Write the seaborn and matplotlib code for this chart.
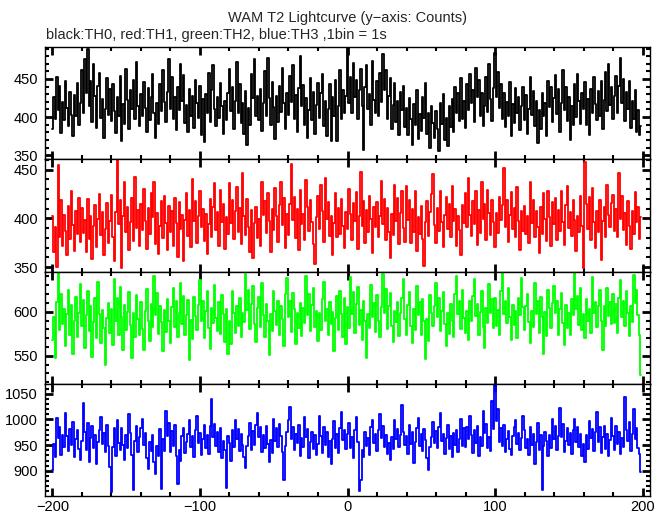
import numpy as np
import seaborn as sns
import matplotlib.pyplot as plt
from matplotlib.ticker import MultipleLocator

# time axis, 1 bin = 1 s
time = np.arange(-200, 200)

# TH0 (black)
th0 = [
    384, 427, 398, 452, 409, 441, 379, 420, 396, 447, 412, 388, 433, 403, 375, 429, 401, 445, 390, 418,
    462, 405, 476, 431, 489, 414, 447, 393, 470, 428, 386, 441, 458, 399, 424, 372, 410, 451, 403, 437,
    395, 443, 408, 379, 426, 402, 454, 369, 417, 391, 463, 422, 384, 436, 410, 449, 398, 472, 415, 388,
    430, 401, 446, 412, 381, 438, 396, 427, 457, 405, 372, 419, 391, 444, 408, 462, 420, 394, 433, 476,
    411, 452, 397, 426, 383, 440, 409, 470, 421, 455, 392, 416, 381, 437, 402, 428, 386, 449, 418, 399,
    441, 376, 424, 367, 430, 405, 458, 394, 436, 468, 410, 388, 427, 399, 445, 414, 378, 421, 396, 432,
    463, 408, 439, 385, 421, 472, 406, 443, 392, 418, 378, 434, 364, 412, 389, 457, 425, 476, 401, 428,
    396, 437, 382, 419, 460, 402, 478, 425, 390, 446, 413, 371, 428, 394, 441, 407, 465, 418, 385, 431,
    403, 454, 420, 468, 397, 429, 381, 438, 480, 414, 442, 390, 425, 372, 409, 451, 396, 433, 378, 416,
    445, 399, 432, 457, 388, 421, 375, 410, 443, 368, 426, 401, 449, 368, 414, 462, 397, 436, 405, 428,
    491, 418, 452, 406, 471, 427, 449, 398, 436, 463, 415, 357, 440, 468, 411, 430, 389, 474, 422, 405,
    447, 401, 458, 420, 483, 435, 462, 397, 428, 451, 384, 416, 445, 393, 421, 376, 433, 409, 441, 387,
    412, 376, 425, 398, 363, 417, 389, 436, 371, 404, 382, 427, 399, 445, 378, 406, 360, 414, 392, 372,
    408, 384, 356, 419, 391, 430, 370, 399, 362, 415, 387, 424, 381, 440, 406, 432, 395, 451, 398, 421,
    386, 443, 409, 457, 418, 436, 394, 465, 427, 449, 401, 431, 388, 414, 452, 407, 470, 424, 395, 438,
    484, 426, 459, 412, 443, 398, 431, 387, 420, 401, 446, 375, 417, 392, 438, 405, 427, 383, 414, 440,
    396, 429, 378, 411, 452, 403, 434, 388, 421, 366, 409, 385, 432, 402, 418, 375, 447, 413, 440, 394,
    425, 455, 404, 437, 381, 418, 462, 409, 439, 395, 426, 370, 414, 389, 443, 400, 457, 421, 391, 432,
    411, 446, 389, 424, 376, 437, 405, 452, 417, 396, 434, 401, 447, 384, 423, 459, 408, 470, 416, 439,
    398, 428, 454, 406, 441, 477, 419, 450, 395, 433, 410, 448, 386, 421, 397, 435, 381, 409, 376, 388,
]

# TH1 (red)
th1 = [
    402, 366, 391, 350, 455, 381, 419, 372, 404, 387, 362, 413, 379, 428, 393, 367, 408, 384, 421, 376,
    411, 385, 398, 366, 420, 379, 403, 358, 392, 414, 371, 399, 425, 383, 407, 362, 389, 416, 375, 397,
    424, 381, 356, 407, 460, 394, 419, 349, 402, 437, 386, 412, 368, 396, 421, 377, 443, 390, 409, 372,
    415, 388, 430, 397, 369, 411, 384, 426, 401, 437, 374, 406, 363, 392, 418, 380, 423, 395, 368, 413,
    386, 408, 372, 421, 395, 360, 417, 389, 404, 356, 398, 426, 382, 409, 371, 440, 397, 418, 375, 402,
    428, 391, 410, 377, 405, 363, 394, 420, 381, 412, 436, 388, 407, 372, 429, 396, 415, 369, 401, 384,
    436, 395, 419, 379, 408, 432, 386, 411, 374, 447, 403, 383, 420, 391, 366, 409, 359, 395, 412, 380,
    399, 372, 437, 404, 418, 385, 426, 397, 366, 410, 388, 431, 402, 376, 414, 437, 393, 421, 370, 405,
    383, 415, 456, 398, 422, 380, 410, 368, 429, 394, 405, 378, 439, 412, 387, 419, 396, 374, 353, 401,
    423, 389, 434, 408, 376, 441, 399, 417, 382, 402, 362, 395, 426, 381, 411, 384, 420, 392, 370, 407,
    389, 430, 405, 378, 416, 397, 427, 369, 403, 448, 392, 418, 375, 409, 386, 423, 399, 364, 412, 391,
    417, 381, 402, 438, 394, 420, 378, 411, 386, 359, 405, 383, 434, 397, 421, 374, 406, 428, 390, 376,
    433, 398, 419, 375, 410, 386, 428, 367, 401, 384, 413, 379, 351, 396, 418, 382, 407, 425, 446, 393,
    375, 411, 387, 428, 396, 371, 404, 422, 389, 415, 381, 433, 397, 410, 372, 402, 388, 362, 414, 395,
    426, 391, 441, 404, 382, 418, 394, 428, 373, 409, 385, 437, 399, 415, 378, 429, 406, 383, 419, 396,
    371, 406, 385, 422, 398, 414, 452, 391, 419, 376, 404, 427, 389, 411, 381, 432, 397, 368, 408, 387,
    413, 384, 402, 375, 437, 395, 419, 381, 408, 391, 365, 412, 384, 426, 399, 377, 428, 401, 372, 417,
    394, 421, 378, 409, 387, 428, 396, 373, 414, 433, 390, 407, 382, 419, 398, 367, 403, 386, 423, 392,
    349, 458, 415, 389, 422, 378, 431, 396, 370, 408, 386, 419, 357, 397, 412, 381, 434, 404, 391, 416,
    424, 387, 410, 381, 447, 399, 423, 388, 406, 373, 418, 392, 369, 408, 384, 427, 396, 412, 379, 401,
]

# TH2 (green)
th2 = [
    568, 594, 547, 611, 644, 579, 620, 586, 603, 561, 597, 625, 574, 608, 552, 590, 617, 571, 599, 631,
    584, 613, 559, 596, 624, 578, 606, 549, 588, 615, 570, 634, 597, 565, 602, 581, 540, 593, 610, 576,
    603, 562, 637, 590, 615, 573, 628, 594, 556, 608, 579, 600, 622, 585, 548, 598, 571, 619, 592, 574,
    611, 580, 557, 601, 626, 589, 567, 609, 583, 641, 596, 621, 575, 607, 588, 555, 602, 577, 614, 590,
    564, 605, 627, 583, 612, 571, 598, 632, 586, 618, 574, 596, 613, 545, 591, 569, 617, 595, 579, 608,
    636, 589, 612, 570, 601, 623, 581, 558, 604, 587, 630, 593, 578, 611, 575, 619, 597, 566, 603, 552,
    590, 563, 624, 598, 576, 607, 584, 616, 571, 599, 588, 643, 602, 625, 580, 609, 629, 586, 566, 604,
    617, 583, 633, 596, 571, 609, 590, 551, 597, 578, 623, 601, 585, 612, 574, 606, 592, 561, 620, 638,
    594, 612, 577, 621, 603, 563, 599, 582, 610, 572, 604, 587, 641, 596, 620, 578, 608, 627, 583, 601,
    567, 598, 579, 614, 634, 590, 603, 573, 611, 586, 600, 555, 593, 618, 579, 624, 597, 571, 616, 563,
    605, 581, 639, 597, 622, 576, 609, 628, 585, 602, 568, 612, 590, 548, 597, 581, 630, 594, 610, 577,
    619, 590, 571, 605, 643, 598, 626, 580, 607, 621, 584, 566, 601, 588, 611, 572, 598, 615, 637, 592,
    573, 608, 622, 584, 565, 603, 579, 629, 596, 611, 574, 614, 589, 546, 592, 567, 619, 598, 584, 606,
    632, 594, 615, 578, 601, 622, 586, 561, 598, 575, 609, 590, 571, 620, 641, 597, 612, 580, 625, 593,
    576, 601, 568, 612, 589, 618, 637, 595, 609, 574, 600, 623, 583, 559, 604, 587, 631, 599, 614, 582,
    616, 584, 602, 573, 624, 644, 597, 612, 587, 627, 594, 568, 608, 585, 601, 570, 616, 596, 638, 605,
    579, 607, 620, 588, 565, 601, 583, 633, 597, 612, 576, 617, 594, 552, 600, 572, 625, 604, 581, 610,
    629, 598, 612, 574, 603, 621, 587, 562, 608, 581, 599, 573, 614, 596, 645, 603, 618, 585, 627, 579,
    597, 570, 614, 589, 603, 576, 639, 598, 611, 583, 607, 625, 590, 557, 606, 584, 627, 595, 611, 586,
    620, 587, 609, 576, 615, 636, 594, 612, 584, 623, 599, 572, 606, 588, 642, 610, 625, 596, 574, 528,
]

# TH3 (blue)
th3 = [
    901, 952, 927, 1003, 964, 985, 931, 970, 947, 1012, 968, 939, 982, 950, 995, 926, 961, 979, 942, 921,
    958, 1032, 976, 941, 994, 918, 963, 987, 944, 970, 913, 956, 980, 1005, 952, 974, 937, 990, 948, 907,
    858, 947, 984, 928, 998, 955, 940, 983, 951, 922, 969, 945, 1010, 973, 931, 862, 959, 987, 936, 966,
    984, 1001, 950, 973, 925, 903, 956, 938, 970, 917, 893, 949, 928, 981, 865, 962, 939, 1017, 968, 994,
    936, 978, 948, 990, 929, 874, 940, 919, 967, 983, 935, 956, 972, 998, 946, 968, 927, 980, 1006, 954,
    973, 931, 962, 990, 944, 969, 932, 987, 1039, 965, 992, 948, 976, 937, 983, 925, 958, 941, 866, 967,
    955, 920, 979, 947, 999, 962, 981, 938, 972, 951, 927, 905, 948, 968, 994, 941, 977, 950, 989, 1013,
    965, 986, 937, 970, 944, 988, 953, 918, 960, 934, 1001, 959, 983, 946, 991, 968, 937, 882, 949, 975,
    998, 1025, 962, 985, 940, 971, 955, 990, 929, 963, 947, 1004, 966, 982, 924, 957, 976, 943, 969, 930,
    952, 1006, 968, 934, 986, 950, 975, 927, 958, 914, 962, 997, 945, 971, 935, 983, 1015, 960, 979, 942,
    971, 993, 944, 965, 925, 980, 1004, 957, 860, 882, 941, 927, 976, 948, 963, 930, 985, 999, 954, 972,
    938, 980, 1011, 964, 987, 946, 969, 932, 955, 921, 966, 943, 998, 961, 982, 947, 970, 1028, 976, 950,
    968, 933, 990, 952, 976, 916, 957, 984, 1003, 948, 972, 939, 981, 960, 925, 902, 946, 966, 995, 954,
    977, 945, 986, 1012, 958, 971, 932, 963, 989, 942, 968, 927, 974, 951, 980, 936, 961, 1000, 948, 983,
    946, 985, 962, 1007, 970, 934, 979, 955, 987, 928, 965, 949, 1017, 973, 992, 944, 966, 938, 1036, 981,
    1068, 997, 1021, 956, 983, 949, 990, 937, 962, 978, 943, 931, 967, 985, 998, 953, 974, 940, 963, 1006,
    979, 944, 962, 930, 985, 951, 972, 913, 956, 993, 941, 969, 863, 948, 976, 958, 929, 970, 945, 1001,
    961, 987, 941, 968, 1023, 966, 991, 937, 959, 983, 950, 974, 933, 980, 1000, 957, 986, 946, 971, 929,
    953, 917, 970, 942, 997, 964, 981, 938, 975, 1014, 957, 985, 934, 966, 988, 943, 972, 929, 960, 1002,
    968, 941, 987, 953, 976, 932, 963, 947, 1044, 980, 958, 995, 939, 971, 1021, 962, 984, 945, 932, 898,
]

series = [th0, th1, th2, th3]
colors = ['black', '#ff0000', '#00ff00', '#0000ff']
ylims = [(345, 492), (345, 461), (518, 645), (851, 1069)]
# panel edges in pixels from the top of the figure
edges = [47, 159, 272, 384, 496]

sns.set_style('ticks')
plt.rcParams['font.family'] = ['Liberation Sans', 'DejaVu Sans']

W, H = 669, 515
fig = plt.figure(figsize=(W / 100, H / 100), dpi=100)

for i, (vals, col, lim) in enumerate(zip(series, colors, ylims)):
    top, bot = edges[i], edges[i + 1]
    ax = fig.add_axes([45 / W, 1 - bot / H, 605 / W, (bot - top) / H])
    sns.lineplot(x=time, y=vals, ax=ax, color=col, lw=1.3, drawstyle='steps-mid')
    ax.set_xlim(-205, 205)
    ax.set_ylim(*lim)
    ax.xaxis.set_major_locator(MultipleLocator(100))
    ax.xaxis.set_minor_locator(MultipleLocator(20))
    ax.yaxis.set_major_locator(MultipleLocator(50))
    ax.yaxis.set_minor_locator(MultipleLocator(10))
    ax.tick_params(which='both', direction='in', top=True, right=True,
                   labelsize=10.5, colors='black', pad=5)
    ax.tick_params(which='major', length=6, width=2)
    ax.tick_params(which='minor', length=3, width=1.5)
    for s in ax.spines.values():
        s.set_linewidth(1.0)
        s.set_color('black')
    ax.set_xlabel('')
    ax.set_ylabel('')
    if i < 3:
        ax.tick_params(labelbottom=False)
    else:
        ax.tick_params(axis='x', pad=3)

fig.text(347 / W, 1 - 18 / H, 'WAM T2 Lightcurve (y\u2212axis: Counts)',
         ha='center', va='center', fontsize=10.5)
fig.text(46 / W, 1 - 35 / H, 'black:TH0, red:TH1, green:TH2, blue:TH3 ,1bin = 1s',
         ha='left', va='center', fontsize=10.5)

fig.savefig('out.png', dpi=100)
